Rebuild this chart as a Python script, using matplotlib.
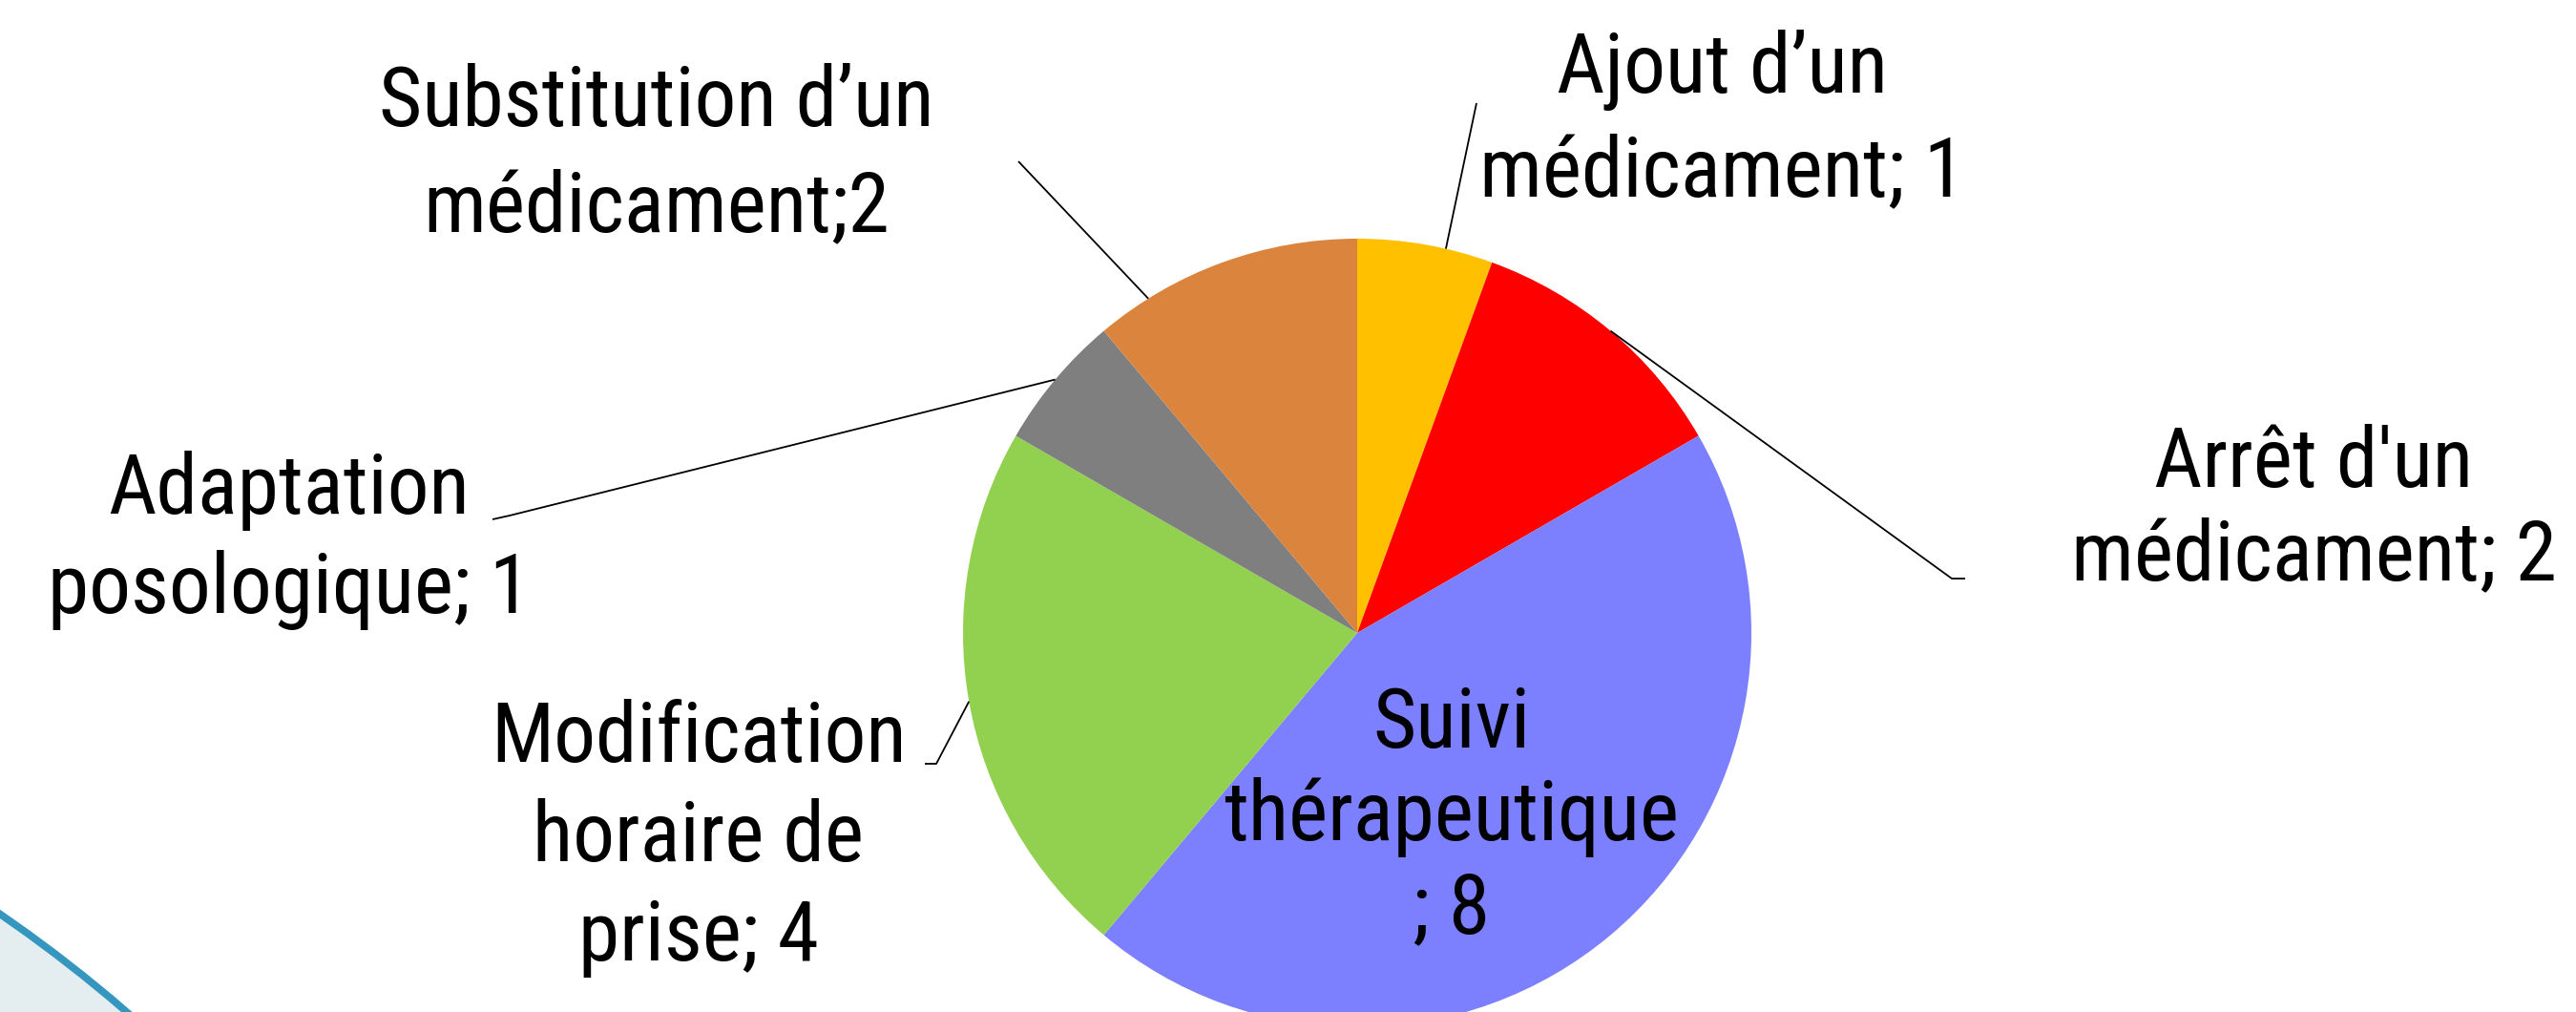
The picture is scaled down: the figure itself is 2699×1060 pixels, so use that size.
"""Pie chart: types d'interventions pharmaceutiques."""

import matplotlib
matplotlib.use("Agg")
import matplotlib.pyplot as plt
from matplotlib import font_manager
from matplotlib.patches import Circle
import numpy as np

# data
categories = [
    "Ajout d\u2019un\nmédicament; 1",
    "Arrêt d'un\nmédicament; 2",
    "Suivi\nthérapeutique\n; 8",
    "Modification\nhoraire de\nprise; 4",
    "Adaptation\nposologique; 1",
    "Substitution d\u2019un\nmédicament;2",
]
values = [1, 2, 8, 4, 1, 2]
colors = ["#FFC000", "#FF0000", "#7C80FF", "#92D050", "#7F7F7F", "#DA843E"]

# layout, in pixels of the 2699x1060 picture (y measured from the top)
W, H = 2699, 1060
PIE_CENTER = (1422, 663)
PIE_RADIUS = 413
label_pos = [(1804, 127), (2424, 535), (1521, 856), (732, 878), (303, 566), (688, 163)]
line_gap = [1.35, 1.2, 1.2, 1.3, 1.3, 1.4]
# leader line: angle offset from wedge middle, elbow point, tail end (None = no leader)
leader_offset = [-3, 0, None, 0, 0, 12]
leader_elbow = [(1547, 108), (2045, 606), None, (981, 800), (534, 540), (1067, 169)]
leader_tail = [None, (2059, 606), None, (969, 800), (516, 544), None]


def pick_font():
    for name, size in [("Liberation Sans Narrow", 68), ("Roboto Condensed", 63)]:
        try:
            font_manager.findfont(font_manager.FontProperties(family=name),
                                  fallback_to_default=False)
            return name, size
        except ValueError:
            pass
    return "Lato", 57


def img(x, y):
    return x, H - y


font_name, font_size = pick_font()

fig = plt.figure(figsize=(W / 100, H / 100), dpi=100, facecolor="white")
ax = fig.add_axes([0, 0, 1, 1])

# decorative template arc in the bottom-left corner
deco = Circle(img(-849, 2194), 1500, facecolor="#E4EDEF", edgecolor="#3596BF",
              linewidth=5.5, zorder=0)
ax.add_patch(deco)

wedges, _ = ax.pie(
    values,
    colors=colors,
    startangle=90,
    counterclock=False,
    center=img(*PIE_CENTER),
    radius=PIE_RADIUS,
    wedgeprops={"linewidth": 0},
)

ax.set_xlim(0, W)
ax.set_ylim(0, H)
ax.set_aspect("equal")
ax.axis("off")

cx, cy = img(*PIE_CENTER)
for i, wedge in enumerate(wedges):
    lx, ly = img(*label_pos[i])
    ax.text(lx, ly, categories[i], ha="center", va="center", fontsize=font_size,
            family=[font_name, "DejaVu Sans"], color="black",
            linespacing=line_gap[i], zorder=5)
    if leader_elbow[i] is None:
        continue
    mid = np.deg2rad((wedge.theta1 + wedge.theta2) / 2 + leader_offset[i])
    pts = [(cx + PIE_RADIUS * np.cos(mid), cy + PIE_RADIUS * np.sin(mid)),
           img(*leader_elbow[i])]
    if leader_tail[i] is not None:
        pts.append(img(*leader_tail[i]))
    xs, ys = zip(*pts)
    ax.plot(xs, ys, color="black", linewidth=1.3, solid_capstyle="butt", zorder=4)

fig.savefig("out.png", dpi=100, facecolor="white")
plt.close(fig)
